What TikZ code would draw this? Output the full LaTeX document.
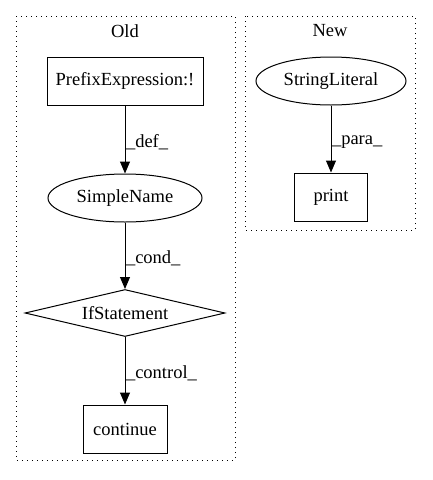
\documentclass[tikz,border=0pt]{standalone}
\usepackage{fontspec}
\setmainfont{Liberation Serif}
\usepackage{tikz}
\usetikzlibrary{arrows.meta,positioning,shapes.geometric}

\begin{document}
\begin{tikzpicture}[x=1pt,y=-1pt,
    font=\fontsize{18.5pt}{21pt}\selectfont,
    cluster/.style={draw,line width=1pt,dash pattern=on 1.2pt off 3.8pt},
    boxnode/.style={draw,line width=1pt,rectangle,inner sep=0pt},
    ovalnode/.style={draw,line width=1pt,ellipse,inner sep=0pt},
    flow/.style={-{Triangle[length=12pt,width=10pt]},line width=1pt},
    elabel/.style={right,inner sep=0.5pt,yshift=-3pt}]
    \useasboundingbox (0,0) rectangle (432,480);

    % Old graph (left)
    \begin{scope}
    \draw[cluster] (16,16) rectangle (235,460);
    \node (oldtitle) at (125,31) {Old};
    \node[boxnode,minimum width=156pt,minimum height=48pt] (prefix) at (125,81) {PrefixExpression:!};
    \node[ovalnode,minimum width=154pt,minimum height=48pt] (simple) at (125,198) {SimpleName};
    \node[draw,line width=1pt,diamond,aspect=4,inner sep=0pt,minimum width=200pt,minimum height=47pt] (ifstmt) at (125,313) {IfStatement};
    \node[boxnode,minimum width=84pt,minimum height=48pt] (cont) at (125,429) {continue};
    \draw[flow] (prefix) -- node[elabel] {\_def\_} (simple);
    \draw[flow] (simple) -- node[elabel] {\_cond\_} (ifstmt);
    \draw[flow] (ifstmt) -- node[elabel] {\_control\_} (cont);
    \end{scope}

    % New graph (right)
    \begin{scope}
    \draw[cluster] (245,16) rectangle (415,230);
    \node (newtitle) at (330,31) {New};
    \node[ovalnode,minimum width=150pt,minimum height=48pt] (strlit) at (331,81) {StringLiteral};
    \node[boxnode,minimum width=73pt,minimum height=48pt] (print) at (331,197) {print};
    \draw[flow] (strlit) -- node[elabel] {\_para\_} (print);
    \end{scope}
\end{tikzpicture}
\end{document}
